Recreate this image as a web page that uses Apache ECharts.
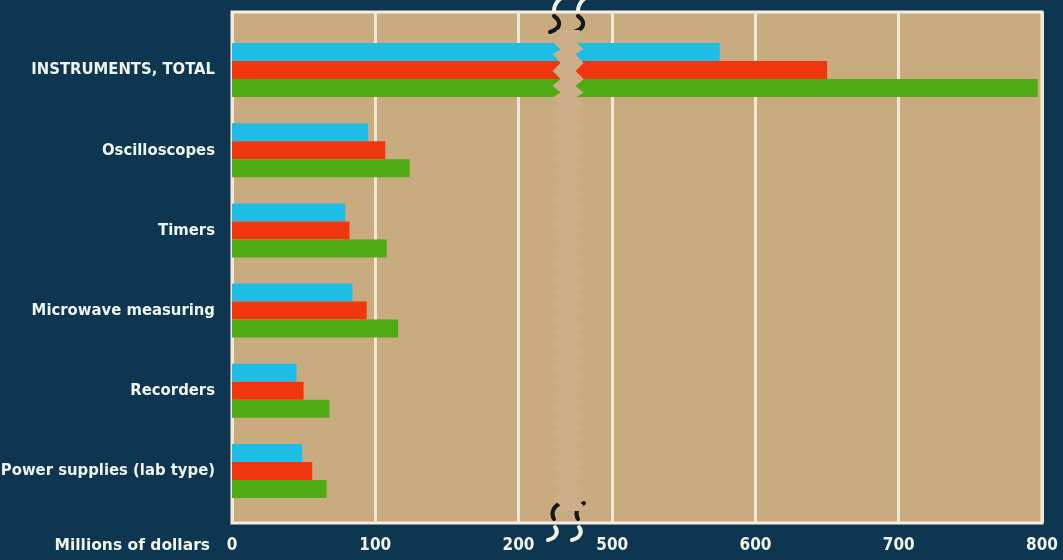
<!DOCTYPE html>
<html><head><meta charset="utf-8">
<script src="https://cdn.jsdelivr.net/npm/echarts@6/dist/echarts.min.js"></script>
<style>html,body{margin:0;padding:0;background:#0f3650}#c{width:1063px;height:560px}</style>
</head><body><div id="c"></div>
<script>
const categories = ['INSTRUMENTS, TOTAL', 'Oscilloscopes', 'Timers', 'Microwave measuring', 'Recorders', 'Power supplies (lab type)'];
const seriesNames = ['Series 1', 'Series 2', 'Series 3'];
const cyanValues = [575, 95, 79, 84, 45, 49];
const redValues = [650, 107, 82, 94, 50, 56];
const greenValues = [797, 124, 108, 116, 68, 66];
const tickValues = [0, 100, 200, 500, 600, 700, 800];
const breakEdgeTicks = [200, 500];
const axisName = 'Millions of dollars';
const barBreak = { start: 226, end: 477 };
const labelBreak = { start: 200, end: 500 };

const condensed = "'Liberation Sans Narrow','DejaVu Sans Condensed',sans-serif";
const TAN = '#c9ab80';
const LINE = '#f1e9d6';
const BG = '#0f3650';

// gap sizes (fraction of axis length) chosen so that both axes share one scale
const barGapFrac = 0.029;
const unitFrac = (1 - barGapFrac) / (800 - (barBreak.end - barBreak.start));
const labelGapFrac = 1 - unitFrac * (800 - (labelBreak.end - labelBreak.start));

const chart = echarts.init(document.getElementById('c'), null, { renderer: 'canvas' });

function xAxisBase(brk, gapFrac, extra) {
  return Object.assign({
    type: 'value', min: 0, max: 800, interval: 100,
    breaks: [{ start: brk.start, end: brk.end, gap: (gapFrac * 100).toFixed(3) + '%' }],
    axisLine: { show: false }, axisTick: { show: false }
  }, extra);
}

const graphics = [];
function addSq(dx) {
  const W = '#f4f1e6', K = '#161616';
  graphics.push({ type: 'bezierCurve', z: 100, shape: { x1: 560 + dx, y1: -1, cpx1: 554 + dx, cpy1: 4, x2: 554 + dx, y2: 11 }, style: { stroke: W, lineWidth: 4, fill: null, lineCap: 'round' } });
  graphics.push({ type: 'bezierCurve', z: 100, shape: { x1: 554 + dx, y1: 16, cpx1: 561 + dx, cpy1: 21, cpx2: 562 + dx, cpy2: 28, x2: 550 + dx, y2: 32 }, style: { stroke: K, lineWidth: 4, fill: null, lineCap: 'round' } });
  graphics.push({ type: 'bezierCurve', z: 100, shape: { x1: 560 + dx, y1: 503, cpx1: 552 + dx, cpy1: 508, cpx2: 551 + dx, cpy2: 514, x2: 554 + dx, y2: 519 }, style: { stroke: K, lineWidth: 4, fill: null, lineCap: 'round' } });
  graphics.push({ type: 'bezierCurve', z: 100, shape: { x1: 555 + dx, y1: 527, cpx1: 559 + dx, cpy1: 532, cpx2: 556 + dx, cpy2: 538, x2: 548 + dx, y2: 540 }, style: { stroke: W, lineWidth: 4, fill: null, lineCap: 'round' } });
}
addSq(0); addSq(24);

const option = {
  backgroundColor: BG,
  animation: false,
  grid: [
    { left: 232, right: 21, top: 12, bottom: 37, show: true, backgroundColor: TAN, borderColor: '#f4efe2', borderWidth: 3, containLabel: false, outerBoundsMode: 'none' },
    { left: 232, right: 21, top: 30, height: 481, containLabel: false, outerBoundsMode: 'none' }
  ],
  xAxis: [
    xAxisBase(labelBreak, labelGapFrac, {
      gridIndex: 0,
      breakArea: { show: false },
      splitLine: { show: true, lineStyle: { color: LINE, width: 3 } },
      axisLabel: {
        show: true, margin: 14, color: '#eef4ee', fontFamily: condensed, fontWeight: 'bold', fontSize: 17,
        formatter: v => tickValues.indexOf(v) >= 0 ? String(v) : ''
      },
      name: axisName, nameLocation: 'start', nameGap: 22,
      nameTextStyle: { color: '#eef4ee', fontFamily: 'DejaVu Sans', fontWeight: 'bold', fontSize: 15.5, align: 'right', verticalAlign: 'top', padding: [15, 0, 0, 0] }
    }),
    xAxisBase(barBreak, barGapFrac, {
      gridIndex: 1,
      splitLine: { show: false },
      axisLabel: { show: false },
      breakArea: { show: true, itemStyle: { color: '#ccaf86', borderColor: '#ccaf86', borderWidth: 0, opacity: 1 }, zigzagAmplitude: 4, zigzagMinSpan: 4, zigzagMaxSpan: 9, zigzagZ: 100 }
    })
  ],
  yAxis: [
    { gridIndex: 0, type: 'value', min: 0, max: 1, show: false, splitLine: { show: false } },
    {
      gridIndex: 1, type: 'category', data: categories, inverse: true,
      axisLine: { show: false }, axisTick: { show: false }, splitLine: { show: false },
      axisLabel: { margin: 17, color: '#eef4ee', fontFamily: condensed, fontWeight: 'bold', fontSize: 16.5 }
    }
  ],
  series: [
    {
      name: 'gridlines', type: 'scatter', xAxisIndex: 0, yAxisIndex: 0, data: [], silent: true,
      markLine: {
        silent: true, symbol: 'none', label: { show: false },
        lineStyle: { color: LINE, width: 3, type: 'solid' },
        data: breakEdgeTicks.map(v => ({ xAxis: v }))
      }
    },
    { name: seriesNames[0], type: 'bar', xAxisIndex: 1, yAxisIndex: 1, data: cyanValues, barWidth: 18, barGap: '0%', itemStyle: { color: '#1ebde6' }, z: 5 },
    { name: seriesNames[1], type: 'bar', xAxisIndex: 1, yAxisIndex: 1, data: redValues, barWidth: 18, barGap: '0%', itemStyle: { color: '#f0360f' }, z: 5 },
    { name: seriesNames[2], type: 'bar', xAxisIndex: 1, yAxisIndex: 1, data: greenValues, barWidth: 18, barGap: '0%', itemStyle: { color: '#4fab14' }, z: 5 }
  ],
  graphic: graphics
};
chart.setOption(option);
</script>
</body></html>
